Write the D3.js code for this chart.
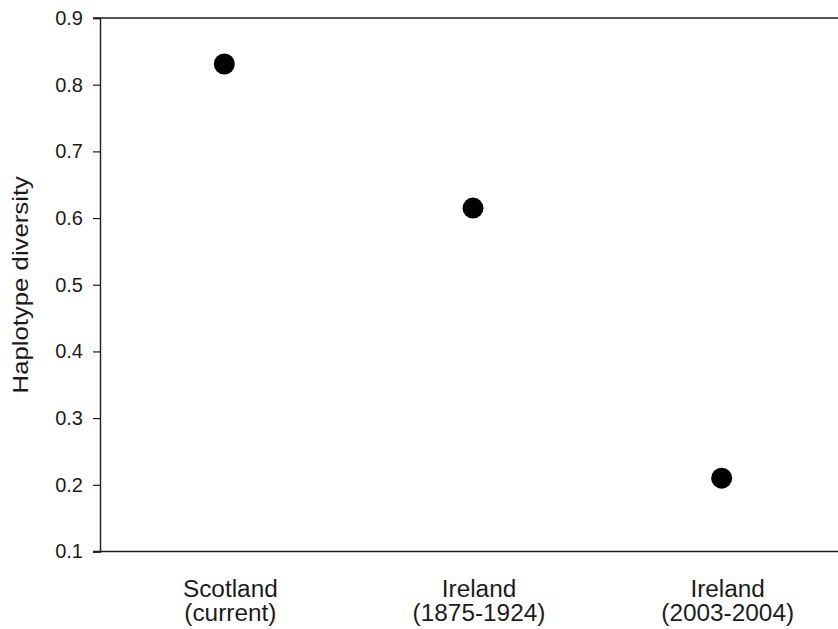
<!DOCTYPE html>
<html>
<head>
<meta charset="utf-8">
<script src="https://cdn.jsdelivr.net/npm/d3@7"></script>
<style>
  html, body { margin: 0; padding: 0; background: #fff; }
  svg { display: block; font-family: "Liberation Sans", Arial, Helvetica, sans-serif; }
</style>
</head>
<body>
<svg id="chart" width="838" height="629"></svg>
<script>
// Haplotype diversity per population sample
const categories = ["Scotland|(current)", "Ireland|(1875-1924)", "Ireland|(2003-2004)"];
const diversity = [0.831, 0.615, 0.210];
const yTicks = [0.1, 0.2, 0.3, 0.4, 0.5, 0.6, 0.7, 0.8, 0.9];
const yTitle = "Haplotype diversity";

const svg = d3.select("#chart");
const plotL = 100, plotR = 846, plotT = 18, plotB = 551.5;
const ink = "#1c1c1c";

const x = d3.scalePoint().domain(categories).range([plotL, plotR]).padding(0.5);
const y = d3.scaleLinear().domain([0.1, 0.9]).range([plotB, plotT]);

// frame lines (top and bottom span the tick length on the left)
svg.append("line")
  .attr("x1", plotL - 7).attr("x2", plotR).attr("y1", y(0.9)).attr("y2", y(0.9))
  .attr("stroke", ink).attr("stroke-width", 1.6);
svg.append("line")
  .attr("x1", plotL - 7).attr("x2", plotR).attr("y1", y(0.1)).attr("y2", y(0.1))
  .attr("stroke", ink).attr("stroke-width", 1.4);

// left axis
const yAxis = d3.axisLeft(y).tickValues(yTicks).tickSize(7).tickPadding(10)
  .tickFormat(d3.format(".1f"));
const gy = svg.append("g").attr("transform", `translate(${plotL},0)`).call(yAxis);
gy.select(".domain").attr("stroke", ink).attr("stroke-width", 1.4);
gy.selectAll(".tick line").attr("stroke", ink).attr("stroke-width", 1.2);
gy.selectAll(".tick text").attr("fill", ink).attr("font-size", 20)
  .attr("font-family", "Liberation Sans, Arial, sans-serif");

// y title, set slightly wide
svg.append("text")
  .attr("transform", `translate(28,${(plotT + plotB) / 2}) rotate(-90) scale(1.17,1)`)
  .attr("text-anchor", "middle")
  .attr("font-size", 22)
  .attr("fill", ink)
  .text(yTitle);

// category labels (two lines each)
const lab = svg.append("g").selectAll("text").data(categories).join("text")
  .attr("text-anchor", "middle")
  .attr("font-size", 23)
  .attr("fill", ink)
  .attr("transform", d => `translate(${x(d) + 6},597) scale(1.06,1)`);
lab.each(function (d) {
  const parts = d.split("|");
  d3.select(this).selectAll("tspan").data(parts).join("tspan")
    .attr("x", 0).attr("dy", (p, i) => i === 0 ? 0 : 24).text(p => p);
});

// points
svg.append("g").selectAll("circle").data(categories).join("circle")
  .attr("cx", d => x(d))
  .attr("cy", (d, i) => y(diversity[i]))
  .attr("r", 10.5)
  .attr("fill", "#000");
</script>
</body>
</html>
